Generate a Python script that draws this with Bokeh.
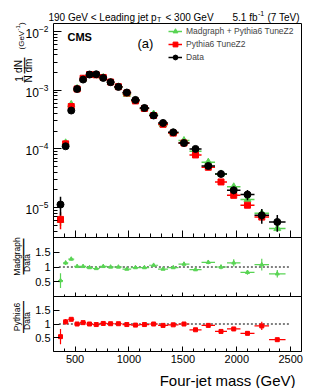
import math
import numpy as np
from bokeh.plotting import figure
from bokeh.models import (Range1d, ColumnDataSource, Label, Legend, LegendItem,
                          FixedTicker, CustomJSTickFormatter, BoxAnnotation,
                          LinearAxis, LinearScale, CDSView, BooleanFilter)
from bokeh.embed import file_html
from bokeh.resources import INLINE

# ---------------- data ----------------
bin_edges = [342, 388, 437, 492, 546, 603, 665, 728, 795, 864, 940, 1020, 1100,
             1187, 1270, 1362, 1459, 1561, 1673, 1798, 1909, 2034, 2164, 2299, 2452]

data_vals = [1.13e-5, 1.11e-4, 4.51e-4, 1.05e-3, 1.52e-3, 1.85e-3, 1.87e-3, 1.62e-3,
             1.37e-3, 1.14e-3, 9.14e-4, 6.84e-4, 4.99e-4, 3.71e-4, 2.77e-4, 1.92e-4,
             1.26e-4, 1.0e-4, 5.13e-5, 3.75e-5, 1.98e-5, 1.67e-5, 7.4e-6, 5.7e-6]
data_relerr = [0.35, 0.07, 0.03, 0.02, 0.02, 0.02, 0.02, 0.02, 0.02, 0.02, 0.02, 0.02,
               0.03, 0.03, 0.03, 0.04, 0.05, 0.07, 0.09, 0.12, 0.15, 0.20, 0.28, 0.32]

madgraph_vals = [6.1e-6, 1.27e-4, 5.73e-4, 1.07e-3, 1.55e-3, 1.81e-3, 1.78e-3, 1.65e-3,
                 1.37e-3, 1.14e-3, 8.5e-4, 6.7e-4, 4.89e-4, 3.93e-4, 2.58e-4, 1.88e-4,
                 1.39e-4, 9.1e-5, 5.95e-5, 3.75e-5, 2.26e-5, 1.37e-5, 8.0e-6, 4.4e-6]
madgraph_relerr = [0.2, 0.04, 0.03, 0.02, 0.01, 0.01, 0.01, 0.01, 0.01, 0.01, 0.01, 0.01,
                   0.02, 0.02, 0.02, 0.02, 0.03, 0.03, 0.04, 0.05, 0.06, 0.06, 0.10, 0.10]

pythia_vals = [6.3e-6, 1.22e-4, 5.28e-4, 1.05e-3, 1.6e-3, 1.85e-3, 1.83e-3, 1.65e-3,
               1.38e-3, 1.15e-3, 8.96e-4, 6.57e-4, 4.89e-4, 3.71e-4, 2.63e-4, 1.86e-4,
               1.26e-4, 7.9e-5, 4.87e-5, 2.74e-5, 1.62e-5, 1.1e-5, 6.9e-6, 2.45e-6]
pythia_relerr = [0.32, 0.08, 0.03, 0.02, 0.01, 0.01, 0.01, 0.01, 0.01, 0.01, 0.01, 0.01,
                 0.02, 0.02, 0.02, 0.02, 0.02, 0.03, 0.05, 0.04, 0.06, 0.06, 0.12, 0.08]

madgraph_ratio = [0.54, 1.14, 1.27, 1.02, 1.02, 0.98, 0.95, 1.02, 1.0, 1.0, 0.93, 0.98,
                  0.98, 1.06, 0.93, 0.98, 1.10, 0.91, 1.16, 1.0, 1.14, 0.82, 1.08, 0.77]
madgraph_ratio_err = [0.25, 0.07, 0.05, 0.02, 0.02, 0.02, 0.02, 0.02, 0.02, 0.02, 0.02, 0.02,
                      0.02, 0.03, 0.03, 0.03, 0.05, 0.04, 0.07, 0.08, 0.12, 0.08, 0.20, 0.13]

pythia_ratio = [0.54, 1.08, 1.17, 1.0, 1.05, 1.0, 0.98, 1.02, 1.01, 1.01, 0.98, 0.96,
                0.98, 1.0, 0.95, 0.97, 1.0, 0.79, 0.95, 0.73, 0.82, 0.66, 0.93, 0.43]
pythia_ratio_err = [0.28, 0.10, 0.04, 0.02, 0.02, 0.02, 0.02, 0.02, 0.02, 0.02, 0.02, 0.02,
                    0.02, 0.02, 0.02, 0.02, 0.03, 0.03, 0.06, 0.04, 0.07, 0.06, 0.15, 0.05]

x_major_ticks = [500, 1000, 1500, 2000, 2500]
y_major_ticks = [1e-5, 1e-4, 1e-3, 1e-2]
ratio_ticks = [0.5, 1, 1.5]

legend_labels = ["Madgraph + Pythia6 TuneZ2", "Pythia6 TuneZ2", "Data"]

# ---------------- layout constants (page pixels) ----------------
FONT = "Liberation Sans"
GREEN = "#59d454"
RED = "#ff0000"
BLACK = "#000000"
CANVAS_W, CANVAS_H = 313, 388
FRAME_L, FRAME_W = 53, 248
X_LO, X_HI = 300, 2600
Y_LO, Y_HI = 3.1e-6, 1.37e-2
MAIN_T, MAIN_H = 23, 214          # visual frame of the main panel
R1_T, R1_H = 237, 59               # visual frame of ratio panel 1
R2_T, R2_H = 296, 55               # visual frame of ratio panel 2
REF_LINE_X = (350, 2500)

edges = np.array(bin_edges, dtype=float)
e_lo, e_hi = edges[:-1], edges[1:]
mid = (e_lo + e_hi) / 2


def px_x(px):
    return X_LO + (px - FRAME_L) * (X_HI - X_LO) / FRAME_W


def py_main(py):
    lt, lb = math.log10(Y_HI), math.log10(Y_LO)
    return 10 ** (lt - (py - MAIN_T) * (lt - lb) / MAIN_H)


def py_r1(py):
    return 2 - (py - R1_T) * 2 / R1_H


def py_r2(py):
    return 2 - (py - R2_T) * 2 / R2_H


def rel_source(vals, rel):
    v = np.array(vals, dtype=float)
    r = np.array(rel, dtype=float)
    return ColumnDataSource(dict(x=mid, x0=e_lo, x1=e_hi, y=v, ylo=v * (1 - r), yhi=v * (1 + r)))


def abs_source(vals, err):
    v = np.array(vals, dtype=float)
    e = np.array(err, dtype=float)
    return ColumnDataSource(dict(x=mid, x0=e_lo, x1=e_hi, y=v, ylo=v - e, yhi=v + e))


x_minor = list(range(300, 2601, 100))
y_minor = [k * 10.0 ** d for d in range(-6, -1) for k in range(2, 10)
           if Y_LO <= k * 10.0 ** d <= Y_HI]
blank_fmt = "return '';"
ratio_fmt = "return (tick == 1) ? '1' : tick.toFixed(1);"

p = figure(width=CANVAS_W, height=CANVAS_H,
           x_range=Range1d(px_x(0), px_x(CANVAS_W)),
           y_range=Range1d(py_main(CANVAS_H), py_main(0)), y_axis_type="log",
           output_backend="svg", toolbar_location=None,
           min_border=0, min_border_left=0, min_border_right=0,
           min_border_top=0, min_border_bottom=0)
p.extra_y_ranges = {"r1": Range1d(py_r1(CANVAS_H), py_r1(0)),
                    "r2": Range1d(py_r2(CANVAS_H), py_r2(0))}
p.extra_y_scales = {"r1": LinearScale(), "r2": LinearScale()}
p.grid.visible = False
p.outline_line_color = None
p.background_fill_color = "white"
p.border_fill_color = "white"


def style_axis(ax, tin, tmin, size=None, fmt=None):
    ax.axis_line_color = None
    ax.major_tick_line_color = "black"
    ax.minor_tick_line_color = "black"
    ax.major_tick_in, ax.major_tick_out = tin, 0
    ax.minor_tick_in, ax.minor_tick_out = tmin, 0
    ax.major_label_text_font = FONT
    ax.major_label_text_color = "black"
    if size:
        ax.major_label_text_font_size = size
    if fmt:
        ax.formatter = CustomJSTickFormatter(code=fmt)


# main axes
xa = p.xaxis[0]
xa.fixed_location = Y_LO
xa.ticker = FixedTicker(ticks=x_major_ticks, minor_ticks=x_minor)
style_axis(xa, 7, 4, fmt=blank_fmt)
ya = p.yaxis[0]
ya.fixed_location = X_LO
ya.ticker = FixedTicker(ticks=y_major_ticks, minor_ticks=y_minor)
style_axis(ya, 8, 4, size="12px")
ya.major_label_standoff = 5

# ratio axes
for name, xlabels in (("r1", False), ("r2", True)):
    ry = LinearAxis(y_range_name=name, fixed_location=X_LO,
                    ticker=FixedTicker(ticks=ratio_ticks, minor_ticks=[]))
    style_axis(ry, 6, 0, size="11px", fmt=ratio_fmt)
    ry.major_label_standoff = 3
    p.add_layout(ry, "left")
    rx = LinearAxis(y_range_name=name, fixed_location=0,
                    ticker=FixedTicker(ticks=x_major_ticks, minor_ticks=x_minor))
    if xlabels:
        style_axis(rx, 5, 3, size="11px")
        rx.major_label_standoff = 3
    else:
        style_axis(rx, 4, 2, fmt=blank_fmt)
    p.add_layout(rx, "below")

# visual frames
for name, bottom, top in ((None, Y_LO, Y_HI), ("r1", 0, 2), ("r2", 0, 2)):
    kw = {} if name is None else {"y_range_name": name}
    p.add_layout(BoxAnnotation(left=X_LO, right=X_HI, bottom=bottom, top=top,
                               fill_alpha=0, line_color="black", line_width=1,
                               line_alpha=1, **kw))

# ---------------- main panel series ----------------
series = [
    (madgraph_vals, madgraph_relerr, GREEN, "triangle", 7),
    (pythia_vals, pythia_relerr, RED, "square", 6),
    (data_vals, data_relerr, BLACK, "circle", 7),
]
legend_items = []
for (vals, rel, col, mk, sz), name in zip(series, legend_labels):
    s = rel_source(vals, rel)
    view = CDSView(filter=BooleanFilter([bool(v >= Y_LO) for v in vals]))
    h = p.segment(x0="x0", x1="x1", y0="y", y1="y", source=s, view=view,
                  line_color=col, line_width=1.5)
    p.segment(x0="x", x1="x", y0="ylo", y1="yhi", source=s, view=view,
              line_color=col, line_width=1.5)
    m = p.scatter(x="x", y="y", source=s, view=view, marker=mk, size=sz,
                  fill_color=col, line_color=col)
    legend_items.append(LegendItem(label=name, renderers=[h, m]))

LEG_LEFT, LEG_BOTTOM = 168, 63     # page px of legend's bottom-left corner
leg = Legend(items=legend_items, location=(LEG_LEFT, CANVAS_H - LEG_BOTTOM),
             border_line_color=None,
             background_fill_alpha=0, label_text_font=FONT, label_text_font_size="8.5px",
             glyph_width=14, glyph_height=12, label_height=12, label_standoff=4,
             spacing=1, padding=0, margin=0)
p.add_layout(leg)

# ---------------- ratio series ----------------
for name, ratio, err, col, mk in (("r1", madgraph_ratio, madgraph_ratio_err, GREEN, "triangle"),
                                  ("r2", pythia_ratio, pythia_ratio_err, RED, "square")):
    p.segment(x0=[REF_LINE_X[0]], x1=[REF_LINE_X[1]], y0=[1], y1=[1], y_range_name=name,
              line_color="black", line_width=1, line_dash="2 2")
    s = abs_source(ratio, err)
    p.segment(x0="x0", x1="x1", y0="y", y1="y", source=s, y_range_name=name,
              line_color=col, line_width=1.2)
    p.segment(x0="x", x1="x", y0="ylo", y1="yhi", source=s, y_range_name=name,
              line_color=col, line_width=1.2)
    p.scatter(x="x", y="y", source=s, y_range_name=name, marker=mk, size=4,
              fill_color=col, line_color=col)


# ---------------- texts ----------------
def lab(x, y, text, size, rng=None, **kw):
    opts = dict(text_font=FONT, text_font_size=size, text_color="black",
                text_align="left", text_baseline="alphabetic")
    if rng:
        opts["y_range_name"] = rng
    opts.update(kw)
    p.add_layout(Label(x=x, y=y, text=text, **opts))


lab(px_x(48), py_main(16.5), "190 GeV < Leading jet p", "10px")
lab(px_x(156.5), py_main(19), "T", "7px")
lab(px_x(165), py_main(16.5), "< 300 GeV", "10px")
lab(px_x(232), py_main(16.5), "5.1 fb", "10px")
lab(px_x(257.5), py_main(12.5), "-1", "7px")
lab(px_x(267), py_main(16.5), "(7 TeV)", "10px")
lab(px_x(67), py_main(36), "CMS", "11px", text_font_style="bold")
lab(px_x(137), py_main(42.5), "(a)", "13px")

rot = dict(angle=math.pi / 2, text_align="center", text_baseline="middle")
rotl = dict(angle=math.pi / 2, text_align="left", text_baseline="middle")
lab(px_x(18), py_main(78.5), "1", "10px", **rot)
lab(px_x(28), py_main(78.5), "N", "10px", **rot)
lab(px_x(22.5), py_main(78.5), "\u2014", "8px", **rot)
lab(px_x(18), py_main(66), "dN", "10px", **rot)
lab(px_x(28), py_main(65), "dm", "10px", **rot)
lab(px_x(22.5), py_main(65), "\u2014", "16px", **rot)
lab(px_x(21), py_main(49), "(GeV", "8px", **rotl)
lab(px_x(17), py_main(30), "-1", "6px", **rotl)
lab(px_x(21), py_main(24.5), ")", "8px", **rotl)

lab(px_x(16), py_r1(256), "Madgraph", "8.5px", "r1", **rot)
lab(px_x(21.5), py_r1(256), "\u2014\u2014", "18px", "r1", **rot)
lab(px_x(26.5), py_r1(262.5), "Data", "8.5px", "r1", **rot)
lab(px_x(16), py_r2(316.5), "Pythia6", "8.5px", "r2", **rot)
lab(px_x(21.5), py_r2(316.5), "\u2014\u2014", "16px", "r2", **rot)
lab(px_x(26.5), py_r2(320.5), "Data", "8.5px", "r2", **rot)

lab(px_x(295), py_r2(380), "Four-jet mass (GeV)", "15px", "r2", text_align="right")

open("out.html", "w").write(file_html(p, INLINE))
